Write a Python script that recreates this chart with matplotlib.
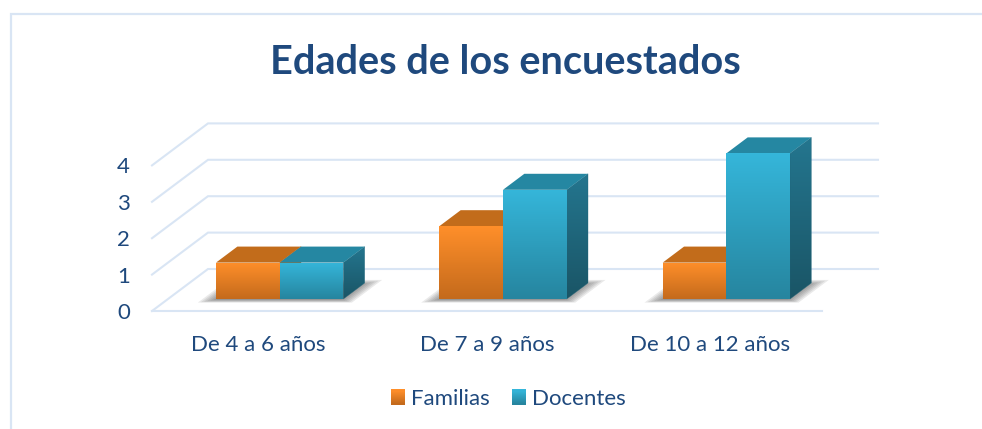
import numpy as np
import matplotlib
matplotlib.use("Agg")
import matplotlib.pyplot as plt
from matplotlib.colors import LinearSegmentedColormap
from matplotlib.legend_handler import HandlerBase
from matplotlib.lines import Line2D
from matplotlib.patches import Patch, Polygon, Rectangle
from matplotlib.transforms import ScaledTranslation

categories = ["De 4 a 6 años", "De 7 a 9 años", "De 10 a 12 años"]
series_names = ["Familias", "Docentes"]
familias = [1, 2, 1]
docentes = [1, 3, 4]
y_ticks = [0, 1, 2, 3, 4]
title = "Edades de los encuestados"

W, H = 982, 429
TEXT = "#1F497D"
GRID = "#D9E5F4"
FONT = 16

# left, bottom, right, top of the front plane in pixels
AX_L, AX_R, AX_Y0, AX_Y4 = 152, 822, 311, 165.4

# oblique depth of the floor, in data units
DX = 56 / ((AX_R - AX_L) / 3)
DY = 42 / ((AX_Y0 - AX_Y4) / 4)
BAR_W = 0.285
D_FRONT = 0.286
D_BACK = 0.667

ORANGE = {"front": ["#FF8F2A", "#C46A1C"], "top": "#C26C1B", "side": ["#C26C1B", "#A85A15"]}
BLUE = {"front": ["#35B6DA", "#26859F"], "top": "#2587A2", "side": ["#24768F", "#1A5566"]}


def proj(x, v, d):
  return (x + d * DX, v + d * DY)


class GradientHandler(HandlerBase):
  def __init__(self, colors):
    super().__init__()
    self.colors = colors

  def create_artists(self, legend, orig_handle, xdescent, ydescent, width, height, fontsize, trans):
    cmap = LinearSegmentedColormap.from_list("g", self.colors)
    n = 14
    out = []
    for i in range(n):
      r = Rectangle((-xdescent, -ydescent + height * (n - 1 - i) / n), width, height / n + 0.3,
                    facecolor=cmap(i / (n - 1)), edgecolor="none", transform=trans)
      out.append(r)
    return out


def gradient(ax, fig, poly_pts, colors, outline=False):
  # vertical gradient over the bounding box of a polygon
  cmap = LinearSegmentedColormap.from_list("g", colors)
  xs = [p[0] for p in poly_pts]
  ys = [p[1] for p in poly_pts]
  im = ax.imshow(np.linspace(0, 1, 128).reshape(-1, 1), cmap=cmap, aspect="auto", origin="upper",
                 extent=(min(xs), max(xs), min(ys), max(ys)), interpolation="bilinear", zorder=4)
  clip = Polygon(poly_pts, closed=True, transform=ax.transData, facecolor="none", edgecolor="none")
  im.set_clip_box(fig.bbox)
  im.set_clip_path(clip)
  if outline:
    # thin polygon edge hides the jagged clip border
    ax.add_patch(Polygon(poly_pts, closed=True, facecolor="none", edgecolor=cmap(0.5), lw=0.4,
                         alpha=0.6, clip_on=False, zorder=4))


def draw_bar(ax, fig, x0, x1, val, style):
  front = [proj(x0, 0, D_FRONT), proj(x1, 0, D_FRONT), proj(x1, val, D_FRONT), proj(x0, val, D_FRONT)]
  top = [proj(x0, val, D_FRONT), proj(x1, val, D_FRONT), proj(x1, val, D_BACK), proj(x0, val, D_BACK)]
  side = [proj(x1, 0, D_FRONT), proj(x1, 0, D_BACK), proj(x1, val, D_BACK), proj(x1, val, D_FRONT)]
  gradient(ax, fig, side, style["side"], outline=True)
  ax.add_patch(Polygon(top, closed=True, facecolor=style["top"], edgecolor="none",
                       clip_on=False, zorder=4))
  gradient(ax, fig, front, style["front"])


def draw_shadow(ax, x0, x1):
  # stacked polygons give the soft edge
  for k in range(7):
    g = 0.06 - 0.011 * k
    d0 = 0.20 + 0.012 * k
    d1 = 0.74 - 0.02 * k
    pts = [proj(x0 - g, 0, d0), proj(x1 + g, 0, d0), proj(x1 + g, 0, d1), proj(x0 - g, 0, d1)]
    ax.add_patch(Polygon(pts, closed=True, facecolor="#404040", edgecolor="none", alpha=0.11,
                         clip_on=False, zorder=3))


def run():
  plt.rcParams["font.family"] = ["Lato", "DejaVu Sans"]
  fig = plt.figure(figsize=(W / 100, H / 100), dpi=100)
  ax = fig.add_axes([AX_L / W, 1 - AX_Y0 / H, (AX_R - AX_L) / W, (AX_Y0 - AX_Y4) / H])
  ax.patch.set_alpha(0)

  xpos = np.arange(len(categories))
  xlim = (-0.5, len(categories) - 0.5)

  # walls and floor lines
  for v in y_ticks:
    bl = proj(xlim[0], v, 1)
    br = proj(xlim[1], v, 1)
    ax.plot([xlim[0], bl[0], br[0]], [v, bl[1], br[1]], color=GRID, lw=1.5, clip_on=False, zorder=1,
            solid_joinstyle="miter")
  ax.plot(xlim, [0, 0], color=GRID, lw=1.5, clip_on=False, zorder=1)

  for i, x in enumerate(xpos):
    draw_shadow(ax, x - BAR_W, x + BAR_W)
  for i, x in enumerate(xpos):
    draw_bar(ax, fig, x - BAR_W, x, familias[i], ORANGE)
    draw_bar(ax, fig, x, x + BAR_W, docentes[i], BLUE)

  ax.set_xlim(xlim)
  ax.set_ylim(0, 4)
  ax.set_xticks(xpos)
  ax.set_xticklabels(categories)
  ax.set_yticks(y_ticks)
  ax.tick_params(axis="x", length=0, pad=17, labelsize=FONT, labelcolor=TEXT)
  ax.tick_params(axis="y", length=0, pad=16, labelsize=FONT, labelcolor=TEXT)
  for s in ax.spines.values():
    s.set_visible(False)

  # first label sits a little left of its group in the original
  lab = ax.get_xticklabels()[0]
  lab.set_transform(lab.get_transform() + ScaledTranslation(-5 / 100, 0, fig.dpi_scale_trans))

  fig.text(505 / W, 1 - 62 / H, title, ha="center", va="center", fontsize=28.5, fontweight="bold", color=TEXT)

  # chart frame, only the top and left borders show
  fig.add_artist(Line2D([11 / W, 11 / W, 1], [0, 1 - 14 / H, 1 - 14 / H], color=GRID, lw=1.6,
                        solid_joinstyle="miter"))

  handles = [Patch(label=series_names[0]), Patch(label=series_names[1])]
  handler_map = {handles[0]: GradientHandler(ORANGE["front"]), handles[1]: GradientHandler(BLUE["front"])}
  fig.legend(handles=handles, handler_map=handler_map, ncol=2, loc="center",
             bbox_to_anchor=(508.5 / W, 1 - 399 / H), frameon=False, fontsize=FONT, labelcolor=TEXT,
             handlelength=0.64, handleheight=0.64, handletextpad=0.27, columnspacing=1.0)

  plt.savefig("out.png", dpi=100)


if __name__ == "__main__":
  run()
